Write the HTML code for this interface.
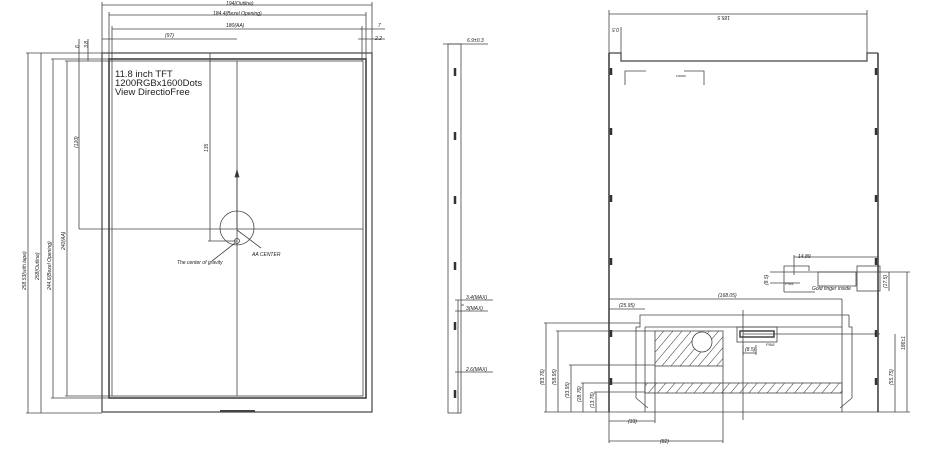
<!DOCTYPE html>
<html><head><meta charset="utf-8"><style>
html,body{margin:0;padding:0;background:#fff;width:930px;height:450px;overflow:hidden}
svg{display:block}
text{font-family:"Liberation Sans",sans-serif;font-style:italic;fill:#222}
</style></head><body>
<svg width="930" height="450" viewBox="0 0 930 450" xmlns="http://www.w3.org/2000/svg">
<defs>
<pattern id="h" width="7" height="7" patternUnits="userSpaceOnUse" patternTransform="rotate(40)">
<line x1="0" y1="0" x2="0" y2="7" stroke="#333" stroke-width="1"/></pattern>
</defs>
<g fill="none" stroke="#444" stroke-width="0.8">
<rect x="102" y="53" width="270" height="359" stroke-width="1.2"/>
<rect x="109" y="59" width="257" height="339" stroke-width="1.6"/>
<rect x="112" y="61" width="251" height="335"/>
<line x1="237" y1="61" x2="237" y2="396"/>
<line x1="79" y1="229" x2="363" y2="229"/>
<line x1="210" y1="53" x2="210" y2="241"/>
<line x1="208" y1="241" x2="237" y2="241"/>
<circle cx="237" cy="228" r="17"/>
<circle cx="237" cy="241" r="2.5"/>
<line x1="237" y1="230" x2="261" y2="248"/>
<line x1="235" y1="243" x2="212" y2="261"/>
<line x1="237" y1="175" x2="237" y2="229" stroke-width="1"/>
<polygon points="237,170 235,177 239,177" fill="#333"/>
<line x1="220" y1="411" x2="255" y2="411" stroke-width="2"/>
<line x1="102" y1="5" x2="372" y2="5"/>
<line x1="109" y1="15" x2="366" y2="15"/>
<line x1="112" y1="29" x2="362" y2="29"/>
<line x1="102" y1="39" x2="237" y2="39"/>
<line x1="102" y1="2" x2="102" y2="53"/>
<line x1="372" y1="2" x2="372" y2="53"/>
<line x1="109" y1="12" x2="109" y2="59"/>
<line x1="366" y1="12" x2="366" y2="59"/>
<line x1="112" y1="26" x2="112" y2="61"/>
<line x1="362" y1="26" x2="362" y2="61"/>
<line x1="360" y1="29" x2="385" y2="29"/>
<line x1="358" y1="39" x2="385" y2="39"/>
<line x1="79" y1="39" x2="79" y2="61"/>
<line x1="88" y1="39" x2="88" y2="61"/>
<line x1="28" y1="53" x2="28" y2="413"/>
<line x1="41" y1="53" x2="41" y2="413"/>
<line x1="53" y1="59" x2="53" y2="398"/>
<line x1="67" y1="61" x2="67" y2="396"/>
<line x1="79" y1="61" x2="79" y2="229"/>
<line x1="26" y1="53" x2="102" y2="53"/>
<line x1="26" y1="413" x2="102" y2="413"/>
<line x1="51" y1="59" x2="109" y2="59"/>
<line x1="51" y1="398" x2="109" y2="398"/>
<line x1="65" y1="61" x2="112" y2="61"/>
<line x1="65" y1="396" x2="112" y2="396"/>
<rect x="448" y="44" width="13" height="369"/>
<line x1="458" y1="300" x2="458" y2="413"/>
<line x1="461" y1="305" x2="464" y2="305"/>
<line x1="443" y1="44" x2="488" y2="44"/>
<line x1="455" y1="300" x2="493" y2="300"/>
<line x1="455" y1="311" x2="488" y2="311"/>
<line x1="455" y1="372" x2="493" y2="372"/>
<line x1="609" y1="14" x2="867" y2="14"/>
<line x1="609" y1="10" x2="609" y2="53"/>
<line x1="867" y1="10" x2="867" y2="53"/>
<line x1="621" y1="27" x2="621" y2="53"/>
<polyline points="609,53 621,53 621,61 867,61 867,53 878,53" stroke-width="1.2"/>
<line x1="609" y1="53" x2="609" y2="412" stroke-width="1.6"/>
<line x1="878" y1="53" x2="878" y2="412" stroke-width="1.6"/>
<line x1="609" y1="412" x2="878" y2="412"/>
<polyline points="625,85 625,71 646,71"/>
<polyline points="684,71 704,71 704,85"/>
<polyline points="849,315 640,315 640,327 636,327 636,398 648,408"/>
<polyline points="849,315 849,327 852,327 852,398 840,408"/>
<line x1="645" y1="327" x2="645" y2="412"/>
<line x1="645" y1="327" x2="842" y2="327"/>
<line x1="842" y1="299" x2="842" y2="412"/>
<rect x="655" y="331" width="68" height="35" fill="url(#h)"/>
<circle cx="702" cy="342" r="10" fill="#fff"/>
<rect x="645" y="383" width="197" height="10" fill="url(#h)"/>
<rect x="737" y="327" width="40" height="15"/>
<rect x="740" y="331" width="34" height="6" stroke-width="1.5"/>
<line x1="743" y1="334" x2="880" y2="334"/>
<line x1="743" y1="345" x2="743" y2="355"/>
<line x1="756" y1="345" x2="756" y2="355"/>
<line x1="743" y1="353" x2="756" y2="353"/>
<line x1="743" y1="310" x2="743" y2="420"/>
<line x1="794" y1="257" x2="878" y2="257"/>
<line x1="794" y1="255" x2="794" y2="275"/>
<polyline points="784,292 784,266 809,266 809,271"/>
<rect x="818" y="272" width="38" height="14"/>
<rect x="857" y="266" width="23" height="25"/>
<line x1="770" y1="272" x2="880" y2="272"/>
<line x1="770" y1="283" x2="800" y2="283"/>
<line x1="784" y1="292" x2="815" y2="292"/>
<line x1="880" y1="272" x2="910" y2="272"/>
<line x1="889" y1="272" x2="889" y2="291"/>
<line x1="907" y1="272" x2="907" y2="412"/>
<line x1="895" y1="334" x2="895" y2="412"/>
<line x1="878" y1="412" x2="910" y2="412"/>
<line x1="609" y1="299" x2="842" y2="299"/>
<line x1="609" y1="309" x2="645" y2="309"/>
<line x1="546" y1="323" x2="546" y2="412"/>
<line x1="558" y1="331" x2="558" y2="412"/>
<line x1="571" y1="365" x2="571" y2="412"/>
<line x1="583" y1="383" x2="583" y2="412"/>
<line x1="596" y1="392" x2="596" y2="412"/>
<line x1="544" y1="323" x2="640" y2="323"/>
<line x1="556" y1="331" x2="655" y2="331"/>
<line x1="569" y1="365" x2="655" y2="365"/>
<line x1="581" y1="383" x2="645" y2="383"/>
<line x1="594" y1="392" x2="645" y2="392"/>
<line x1="544" y1="412" x2="609" y2="412"/>
<line x1="655" y1="366" x2="655" y2="423"/>
<line x1="723" y1="366" x2="723" y2="443"/>
<line x1="609" y1="412" x2="609" y2="443"/>
<line x1="609" y1="421" x2="655" y2="421"/>
<line x1="609" y1="441" x2="723" y2="441"/>
</g>
<g stroke="#333" stroke-width="2.5">
<line x1="455" y1="68" x2="455" y2="76"/><line x1="455" y1="132" x2="455" y2="140"/>
<line x1="455" y1="196" x2="455" y2="204"/><line x1="455" y1="262" x2="455" y2="270"/>
<line x1="455" y1="322" x2="455" y2="330"/><line x1="455" y1="390" x2="455" y2="398"/>
<line x1="611" y1="68" x2="611" y2="75"/><line x1="611" y1="128" x2="611" y2="135"/>
<line x1="611" y1="195" x2="611" y2="202"/><line x1="611" y1="258" x2="611" y2="265"/>
<line x1="611" y1="330" x2="611" y2="337"/><line x1="611" y1="378" x2="611" y2="385"/>
<line x1="876" y1="68" x2="876" y2="75"/><line x1="876" y1="128" x2="876" y2="135"/>
<line x1="876" y1="195" x2="876" y2="202"/><line x1="876" y1="258" x2="876" y2="265"/>
<line x1="876" y1="330" x2="876" y2="337"/><line x1="876" y1="378" x2="876" y2="385"/>
</g>
<g font-size="5">
<text x="226" y="5">194(Outline)</text>
<text x="213" y="15">184.4(Bezel Opening)</text>
<text x="226" y="27">180(AA)</text>
<text x="165" y="37">(97)</text>
<text x="378" y="27">7</text>
<text x="375" y="40">2.2</text>
<text transform="translate(79,48) rotate(-90)">6</text>
<text transform="translate(88,48) rotate(-90)">3.8</text>
<text transform="translate(26,290) rotate(-90)">258.53(with tape)</text>
<text transform="translate(39,280) rotate(-90)">258(Outline)</text>
<text transform="translate(51,290) rotate(-90)">244.6(Bezel Opening)</text>
<text transform="translate(65,250) rotate(-90)">240(AA)</text>
<text transform="translate(78,148) rotate(-90)">(120)</text>
<text transform="translate(208,152) rotate(-90)">135</text>
<text x="252" y="256">AA CENTER</text>
<text x="177" y="264">The center of gravity</text>
<text x="467" y="42">6.9±0.3</text>
<text x="466" y="299">3.4(MAX)</text>
<text x="466" y="310">3(MAX)</text>
<text x="466" y="371">2.6(MAX)</text>
<text transform="translate(730,16) rotate(180)">185.5</text>
<text transform="translate(619,28) rotate(180)">0.5</text>
<text x="676" y="77" font-size="3">FW000</text>
<text x="718" y="297">(168.05)</text>
<text x="619" y="307">(25.95)</text>
<text x="798" y="258">14.89</text>
<text x="812" y="290">Gold finger inside</text>
<text x="785" y="285" font-size="4">PIN1</text>
<text x="766" y="346" font-size="4">PIN1</text>
<text x="745" y="351">(8.5)</text>
<text x="628" y="423">(33)</text>
<text x="660" y="443">(82)</text>
<text transform="translate(544,385) rotate(-90)">(83.76)</text>
<text transform="translate(556,385) rotate(-90)">(58.95)</text>
<text transform="translate(569,398) rotate(-90)">(33.95)</text>
<text transform="translate(581,402) rotate(-90)">(28.76)</text>
<text transform="translate(594,408) rotate(-90)">(13.76)</text>
<text transform="translate(905,350) rotate(-90)">186±1</text>
<text transform="translate(893,385) rotate(-90)">(55.75)</text>
<text transform="translate(887,288) rotate(-90)">(17.5)</text>
<text transform="translate(768,285) rotate(-90)">(8.5)</text>
</g>
<g font-size="9.5" fill="#222">
<text x="115" y="77" style="font-style:normal">11.8 inch TFT</text>
<text x="115" y="86" style="font-style:normal">1200RGBx1600Dots</text>
<text x="115" y="95" style="font-style:normal">View DirectioFree</text>
</g>
</svg>
</body></html>
